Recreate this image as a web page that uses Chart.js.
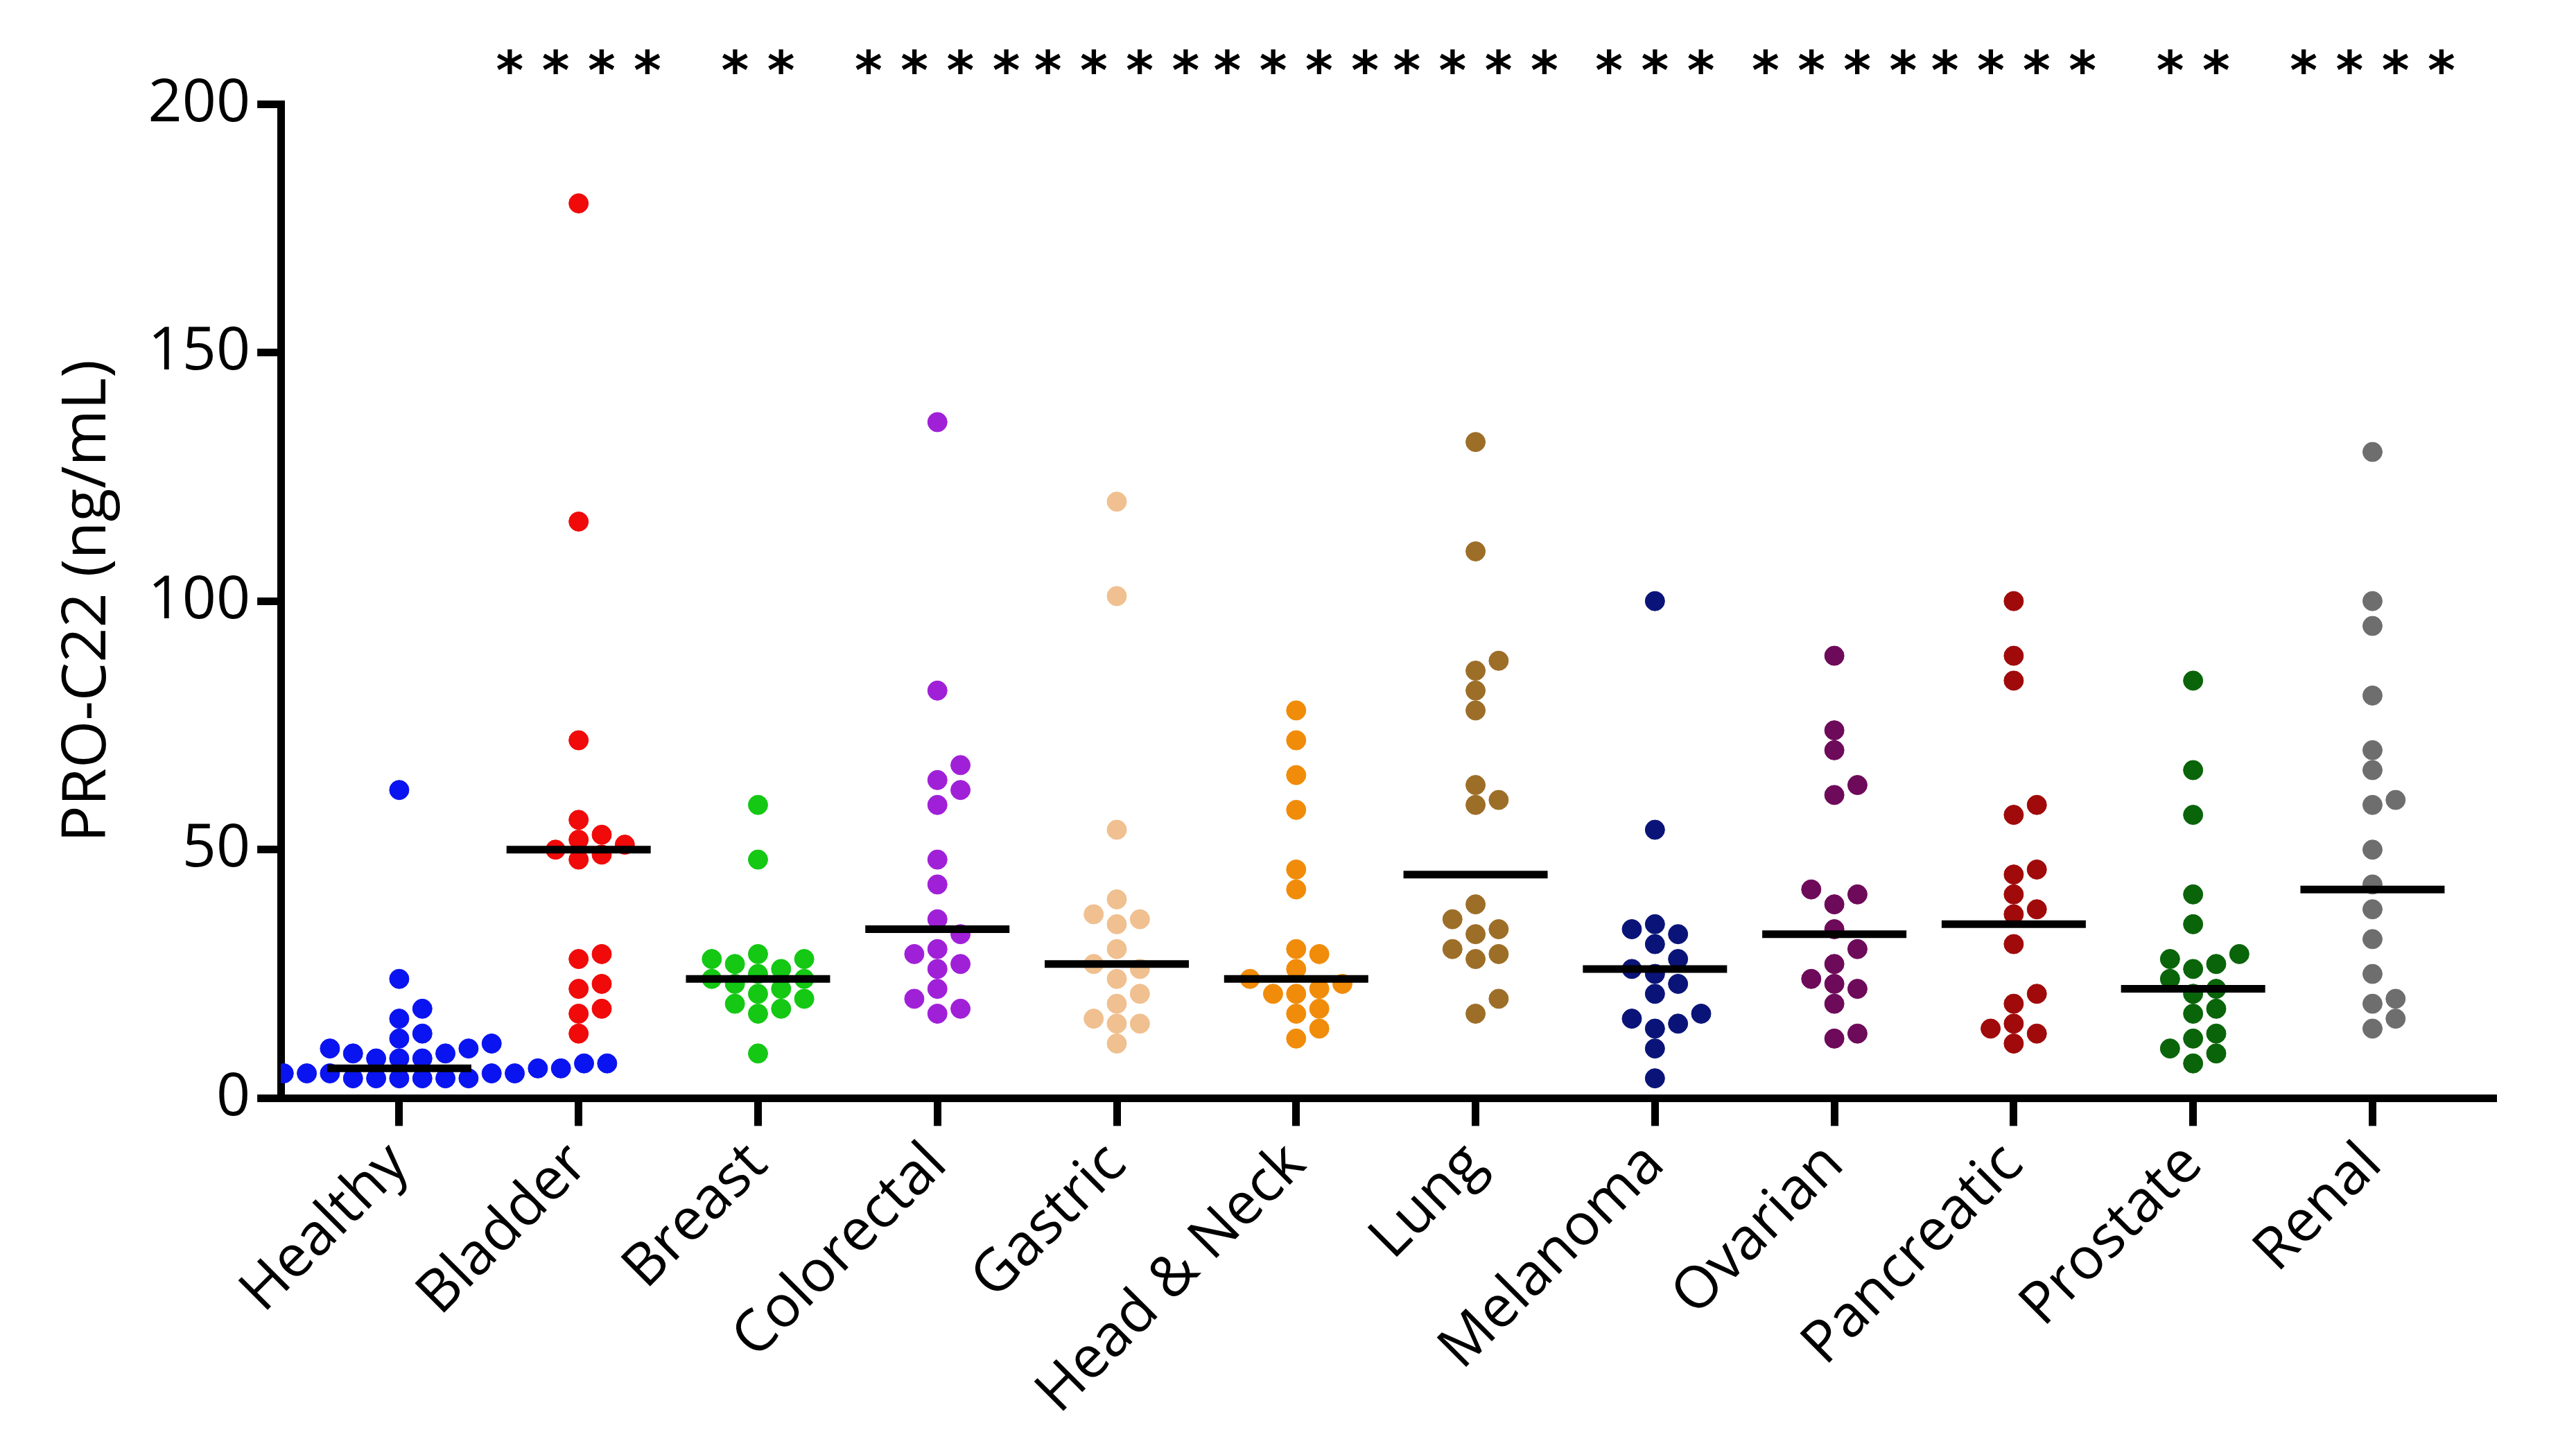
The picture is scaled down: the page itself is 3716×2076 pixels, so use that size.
<!DOCTYPE html>
<html><head><meta charset="utf-8">
<script src="https://cdn.jsdelivr.net/npm/chart.js@4"></script>
<style>html,body{margin:0;background:#fff}#w{width:3716px;height:2076px}</style>
</head><body><div id="w"><canvas id="c"></canvas></div>
<script>
const categories=["Healthy","Bladder","Breast","Colorectal","Gastric","Head & Neck","Lung","Melanoma","Ovarian","Pancreatic","Prostate","Renal"];
const colors=["#0a14f0","#f00a0a","#14c814","#a020d8","#f0c090","#f08c0a","#9c6e28","#0a1478","#6e0a5a","#a00a0a","#0a640a","#6e6e6e"];
const stars=["","****","**","****","****","****","****","***","****","****","**","****"];
const healthy=[62,24,18,16,13,12,11,10,10,9,9,8,8,8,7,7,7,6,6,6,6,5,5,5,5,5,4,4,4,4,4,4];
const bladder=[180,116,72,56,53,52,51,50,49,48,29,28,23,22,18,17,13];
const breast=[59,48,29,28,28,27,26,25,24,24,23,22,21,20,19,18,17,9];
const colorectal=[136,82,67,64,62,59,48,43,36,33,30,29,27,26,22,20,18,17];
const gastric=[120,101,54,40,37,36,35,30,27,26,24,21,19,16,15,15,11];
const headNeck=[78,72,65,58,46,42,30,29,26,24,23,22,21,21,18,17,14,12];
const lung=[132,110,88,86,82,78,63,60,59,39,36,34,33,30,29,28,20,17];
const melanoma=[100,54,35,34,33,31,28,26,25,23,21,17,16,15,14,10,4];
const ovarian=[89,74,70,63,61,42,41,39,34,30,27,24,23,22,19,13,12];
const pancreatic=[100,89,84,59,57,46,45,41,38,37,31,21,19,15,14,13,11];
const prostate=[84,66,57,41,35,29,28,27,26,24,22,21,18,17,13,12,10,9,7];
const renal=[130,100,95,81,70,66,60,59,50,43,38,32,25,20,19,16,14];
const medians=[6,50,24,34,27,24,45,26,33,35,22,42];
const groups=[healthy,bladder,breast,colorectal,gastric,headNeck,lung,melanoma,ovarian,pancreatic,prostate,renal];

const XU=264,YU=6.83,D=22;
function swarm(vals,cx){
  const placed=[];
  const sorted=[...vals].sort((a,b)=>a-b);
  for(const v of sorted){
    const y=v*YU;
    for(let k=0;k<40;k++){
      const off=(k===0?0:(k%2?1:-1)*Math.ceil(k/2))*34;
      if(placed.every(p=>Math.hypot(p.px-off,p.py-y)>=D)){placed.push({px:off,py:y,v});break;}
    }
  }
  return placed.map(p=>({x:cx+p.px/XU,y:p.v}));
}
const datasets=groups.map((g,i)=>({type:'scatter',data:swarm(g,i+1),backgroundColor:colors[i],borderColor:colors[i],pointRadius:14,pointHoverRadius:14,order:2}));
datasets.push({type:'scatter',data:medians.map((m,i)=>({x:i+1,y:m})),pointStyle:'line',pointRadius:104,pointHoverRadius:104,borderColor:'#000',borderWidth:11,order:1});

const starPlugin={id:'stars',afterDraw(ch){
  const c=ch.ctx,xs=ch.scales.x;
  c.save();c.fillStyle='#000';c.font='bold 76px "DejaVu Sans"';c.textAlign='center';c.textBaseline='middle';
  stars.forEach((s,i)=>{if(!s)return;c.fillText(s.split('').join(' '),xs.getPixelForValue(i+1),108);});
  c.restore();}};

Chart.defaults.font.family='"Open Sans"';
Chart.defaults.color='#000';
new Chart(document.getElementById('c'),{
  data:{datasets},
  options:{responsive:true,maintainAspectRatio:false,animation:false,
    layout:{padding:{top:150,right:20,left:50,bottom:10}},
    plugins:{legend:{display:false},tooltip:{enabled:false}},
    scales:{
      x:{type:'linear',min:0.34,max:12.69,
        afterBuildTicks(s){s.ticks=categories.map((c,i)=>({value:i+1}));},
        ticks:{callback:v=>categories[v-1],maxRotation:45,minRotation:45,font:{size:84},padding:6},
        grid:{drawOnChartArea:false,drawTicks:true,tickLength:40,tickWidth:11,color:'#000'},
        border:{width:11,color:'#000'}},
      y:{min:0,max:200,
        ticks:{stepSize:50,font:{size:86},padding:10},
        grid:{drawOnChartArea:false,tickLength:34,tickWidth:11,color:'#000'},
        border:{width:11,color:'#000'},
        title:{display:true,text:'PRO-C22 (ng/mL)',font:{size:88},padding:24}}
    }},
  plugins:[starPlugin]
});
</script></body></html>
